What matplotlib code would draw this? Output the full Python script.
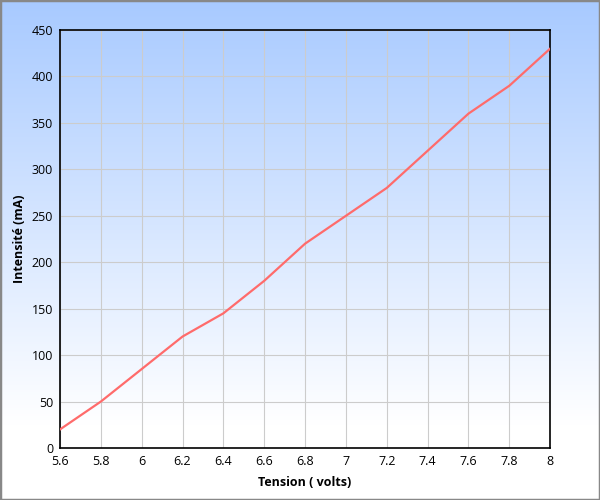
import numpy as np
import matplotlib.pyplot as plt
from matplotlib.colors import LinearSegmentedColormap
from matplotlib.patches import Rectangle

plt.rcParams['font.family'] = ['Open Sans', 'DejaVu Sans']

tension = [5.6, 5.8, 6.0, 6.2, 6.4, 6.6, 6.8, 7.0, 7.2, 7.4, 7.6, 7.8, 8.0]
intensite = [20, 50, 85, 120, 145, 180, 220, 250, 280, 320, 360, 390, 430]
xticks = [5.6, 5.8, 6, 6.2, 6.4, 6.6, 6.8, 7, 7.2, 7.4, 7.6, 7.8, 8]
xticklabels = ['5.6', '5.8', '6', '6.2', '6.4', '6.6', '6.8', '7', '7.2', '7.4', '7.6', '7.8', '8']
yticks = [0, 50, 100, 150, 200, 250, 300, 350, 400, 450]

fig = plt.figure(figsize=(6, 5), dpi=100)

# background gradient over whole figure (white near bottom -> light blue at top)
bg = fig.add_axes([0, 0, 1, 1], zorder=-10)
cmap = LinearSegmentedColormap.from_list('bg', [(0, '#ffffff'), (0.15, '#ffffff'), (1, '#a8caff')])
grad = np.linspace(0, 1, 256).reshape(-1, 1)
bg.imshow(grad, aspect='auto', cmap=cmap, origin='lower', extent=[0, 1, 0, 1])
bg.add_patch(Rectangle((0, 0), 1, 1, fill=False, edgecolor='#888888', lw=2.5,
                       transform=bg.transAxes))
bg.set_axis_off()

ax = fig.add_axes([0.1, 0.104, 0.817, 0.836])
ax.patch.set_alpha(0)
ax.plot(tension, intensite, color='#ff6b6b', lw=1.6, zorder=3)

ax.set_xlim(5.6, 8)
ax.set_ylim(0, 450)
ax.set_xticks(xticks)
ax.set_xticklabels(xticklabels)
ax.set_yticks(yticks)
ax.grid(True, color='#cccccc', lw=0.8)
ax.set_axisbelow(True)
ax.tick_params(length=0, labelsize=9, pad=5)
for s in ax.spines.values():
    s.set_color('black')
    s.set_linewidth(1.2)

ax.set_xlabel('Tension ( volts)', fontsize=9, fontweight='bold', labelpad=6)
ax.set_ylabel('Intensité (mA)', fontsize=9, fontweight='bold', labelpad=4)

fig.savefig('out.png', dpi=100)
